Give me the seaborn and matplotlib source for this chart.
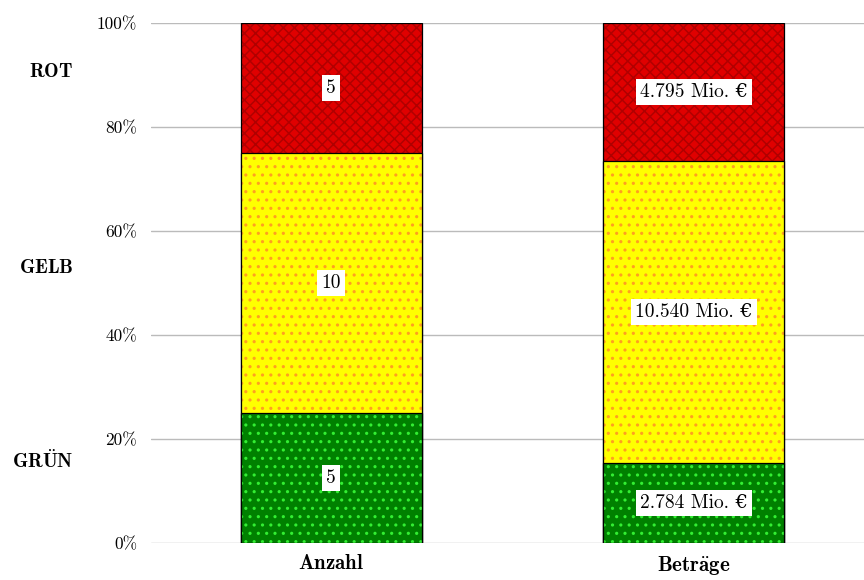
import matplotlib
matplotlib.use("Agg")
import matplotlib.pyplot as plt
import matplotlib.colors as mcolors
import seaborn as sns
import pandas as pd
import numpy as np

categories = ["Anzahl", "Beträge"]
category_tex = [r"$\mathbf{Anzahl}$", r"$\mathbf{Betr\ddot{a}ge}$"]
levels = ["GRÜN", "GELB", "ROT"]
level_tex = [r"$\mathbf{GR\ddot{U}N}$", r"$\mathbf{GELB}$", r"$\mathbf{ROT}$"]
anzahl = [5, 10, 5]
betraege = [2.784, 10.540, 4.795]
label_anzahl = ["5", "10", "5"]
label_betraege = ["2.784 Mio. €", "10.540 Mio. €", "4.795 Mio. €"]

fill_colors = {"GRÜN": "#008000", "GELB": "#ffff00", "ROT": "#e00000"}
hatch_colors = {"GRÜN": "#33ee33", "GELB": "#ffa020", "ROT": "#b00000"}
hatches = {"GRÜN": "..", "GELB": "..", "ROT": "xxx"}

sns.set_theme(style="white")
plt.rcParams['font.family'] = ['cmr10', 'DejaVu Serif']
plt.rcParams['mathtext.fontset'] = 'cm'
plt.rcParams['axes.formatter.use_mathtext'] = True
plt.rcParams['hatch.linewidth'] = 1.1
plt.rcParams['text.color'] = 'black'
plt.rcParams['xtick.color'] = 'black'
plt.rcParams['ytick.color'] = 'black'

vals = np.array([anzahl, betraege], dtype=float)
pct = vals / vals.sum(axis=1, keepdims=True) * 100
cum = np.cumsum(pct, axis=1)

fig = plt.figure(figsize=(8.64, 5.8), dpi=100)
ax = fig.add_axes([0.175, 0.0638, 0.825, 0.8966])

# draw cumulative layers, top level first
for li in range(len(levels) - 1, -1, -1):
    lvl = levels[li]
    df = pd.DataFrame({"cat": categories, "val": cum[:, li]})
    n_before = len(ax.patches)
    sns.barplot(data=df, x="cat", y="val", color=fill_colors[lvl], width=0.5,
                saturation=1, ax=ax, zorder=2)
    for p in ax.patches[n_before:]:
        p.set_hatch(hatches[lvl])
        p.set_edgecolor("black")
        p.set_linewidth(0.9)
        p._hatch_color = mcolors.to_rgba(hatch_colors[lvl])

labels = [label_anzahl, label_betraege]
for ci in range(len(categories)):
    for li in range(len(levels)):
        bottom = cum[ci, li] - pct[ci, li]
        ax.text(ci, bottom + pct[ci, li] / 2, labels[ci][li], ha="center", va="center",
                fontsize=14, zorder=5, color="black",
                bbox=dict(facecolor="white", edgecolor="none", pad=3))

ax.set_ylim(0, 100)
ax.set_xlim(-0.497, 1.47)
ax.set_yticks([0, 20, 40, 60, 80, 100])
ax.set_yticklabels([f"{t}%" for t in [0, 20, 40, 60, 80, 100]], fontsize=12.5)
ax.yaxis.grid(True, color="#bbbbbb", linewidth=1, zorder=0)
ax.set_axisbelow(True)
ax.tick_params(axis="y", length=0, pad=10)
ax.tick_params(axis="x", length=0, pad=8)
ax.set_xticks([0, 1])
ax.set_xticklabels(category_tex, fontsize=15)
ax.set_xlabel("")
ax.set_ylabel("")
for s in ax.spines.values():
    s.set_visible(False)

# level labels on the left
trans = matplotlib.transforms.blended_transform_factory(fig.transFigure, ax.transData)
level_y = [15.8, 52.9, 90.6]
for lt, yy in zip(level_tex, level_y):
    ax.text(73 / 864, yy, lt, transform=trans, ha="right", va="center",
            fontsize=14, color="black")

fig.savefig("out.png", dpi=100)
